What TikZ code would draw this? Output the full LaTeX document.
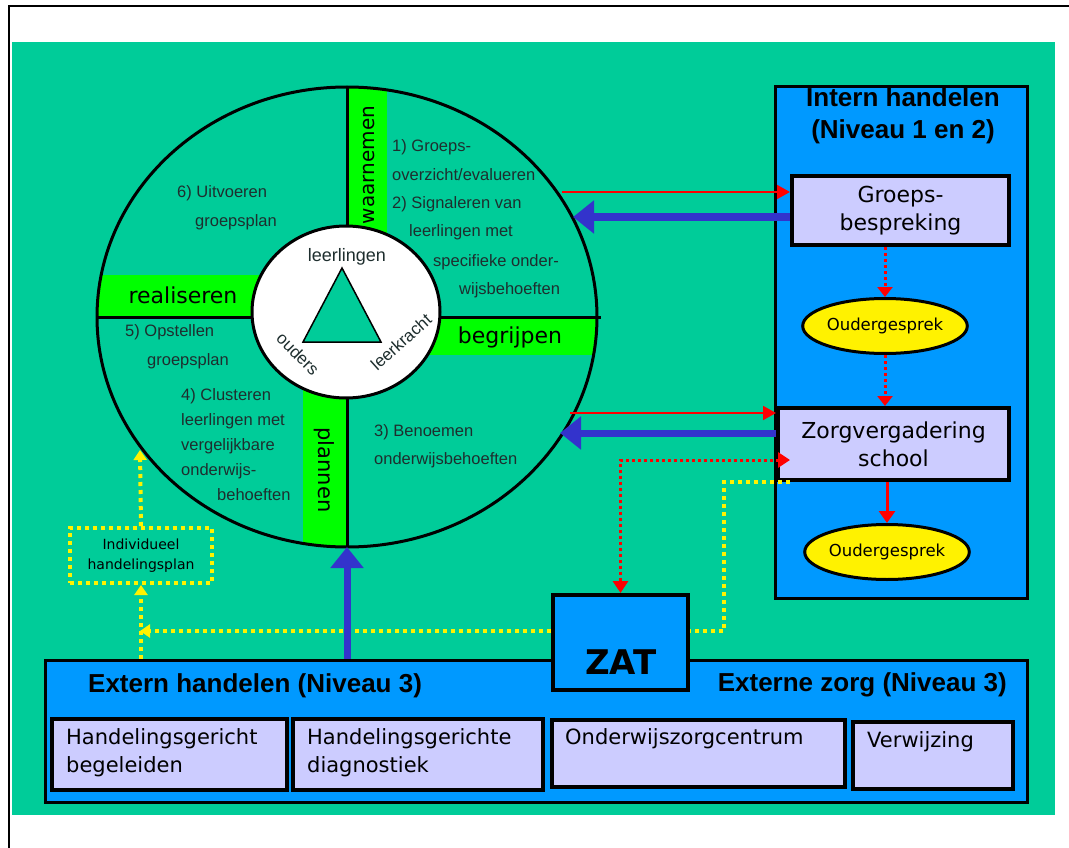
\documentclass[tikz,border=0pt]{standalone}
\usepackage{fontspec}
\setmainfont{Liberation Sans}
\newfontfamily\comic{DejaVu Sans}
\usetikzlibrary{shapes.geometric,arrows.meta}
\definecolor{bg}{HTML}{00CC99}
\definecolor{stripgreen}{HTML}{00FF00}
\definecolor{boxblue}{HTML}{0099FF}
\definecolor{lav}{HTML}{CCCCFF}
\definecolor{arrblue}{HTML}{3333CC}
\definecolor{txtgray}{HTML}{1E2E2E}
\newcommand\myfs[2]{\fontsize{#1}{#2}\selectfont}
\tikzset{
  ct/.style={anchor=west, inner sep=0pt, text=txtgray, font=\myfs{16.5}{20}},
  striptext/.style={inner sep=0pt, font=\comic\myfs{22}{26}},
  lavbox/.style={draw=black, line width=4pt, fill=lav, inner sep=0pt},
  bluebox/.style={draw=black, line width=3pt, fill=boxblue, inner sep=0pt},
  ouder/.style={ellipse, draw=black, line width=3pt, fill=yellow, minimum width=146pt, minimum height=55pt, inner sep=0pt, font=\comic\myfs{16.5}{20}},
  redarr/.style={draw=red, line width=2pt, -{Triangle[length=13pt,width=14pt]}},
  bluearr/.style={draw=arrblue, line width=7pt, -{Triangle[length=21pt,width=32pt]}},
  reddot/.style={draw=red, line width=3pt, dash pattern=on 3pt off 3pt},
  yeldot/.style={draw=yellow, line width=4pt, dash pattern=on 4pt off 4pt},
  boldhead/.style={inner sep=0pt, font=\bfseries\myfs{26}{32}},
  subtext/.style={inner sep=0pt, anchor=west, align=left, font=\comic\myfs{21}{28}},
}
\begin{document}
\begin{tikzpicture}[x=1pt,y=-1pt]
\useasboundingbox (0,0) rectangle (1069,848);
% background and frame
\fill[bg] (12,42) rectangle (1055,815);
\draw[line width=2.5pt] (9,848) -- (9,6) -- (1069,6);

% strips of the cycle
\begin{scope}
  \clip (347,317) ellipse [x radius=250, y radius=230];
  \fill[stripgreen] (347,80) rectangle (387,240);
  \fill[stripgreen] (90,275) rectangle (270,317);
  \fill[stripgreen] (420,317) rectangle (610,355);
  \fill[stripgreen] (303,380) rectangle (347,560);
\end{scope}
\draw[line width=3pt] (347,87) -- (347,547);
\draw[line width=3pt] (97,317) -- (601,317);
\draw[line width=3pt] (347,317) ellipse [x radius=250, y radius=230];
\draw[line width=3pt, fill=white] (346,312) ellipse [x radius=94, y radius=86];
\draw[line width=1.5pt, fill=bg] (342,268) -- (381,342) -- (303,342) -- cycle;

% centre labels
\node[inner sep=0pt, text=txtgray, font=\myfs{18}{20}] (lrl) at (347,257) {leerlingen};
\node[inner sep=0pt, text=txtgray, font=\myfs{17}{20}, rotate=-45] (oud) at (298,354) {ouders};
\node[inner sep=0pt, text=txtgray, font=\myfs{17}{20}, rotate=42] (lkr) at (401,342) {leerkracht};

% strip labels
\node[striptext, rotate=90, font=\comic\myfs{20}{24}] (waar) at (369,165) {waarnemen};
\node[striptext] (real) at (183,295) {realiseren};
\node[striptext] (begr) at (510,337) {begrijpen};
\node[striptext, rotate=-90, font=\comic\myfs{21}{24}] (plan) at (324,470) {plannen};

% cycle texts
\node[ct] (t1) at (392,147) {1) Groeps-};
\node[ct] (t2) at (392,175) {overzicht/evalueren};
\node[ct] (t3) at (392,204) {2) Signaleren van};
\node[ct] (t4) at (409,232) {leerlingen met};
\node[ct] (t5) at (433,262) {specifieke onder-};
\node[ct] (t6) at (459,290) {wijsbehoeften};
\node[ct] (t7) at (177,193) {6) Uitvoeren};
\node[ct] (t8) at (195,222) {groepsplan};
\node[ct] (t9) at (125,332) {5) Opstellen};
\node[ct] (t10) at (147,361) {groepsplan};
\node[ct] (t11) at (181,396) {4) Clusteren};
\node[ct] (t12) at (181,421) {leerlingen met};
\node[ct] (t13) at (181,446) {vergelijkbare};
\node[ct] (t14) at (181,471) {onderwijs-};
\node[ct] (t15) at (217,495) {behoeften};
\node[ct] (t16) at (374,432) {3) Benoemen};
\node[ct] (t17) at (374,460) {onderwijsbehoeften};

% intern handelen column
\node[bluebox, minimum width=252pt, minimum height=511pt] (intern) at (901,342.5) {};
\node[boldhead, align=center] (inttitle) at (903,116) {Intern handelen\\(Niveau 1 en 2)};
\node[lavbox, minimum width=217pt, minimum height=69pt, align=center, font=\comic\myfs{22}{28}] (grp) at (900.5,210.5) {Groeps-\\bespreking};
\node[ouder] (oud1) at (885,326) {Oudergesprek};
\node[lavbox, minimum width=231pt, minimum height=72pt, align=center, font=\comic\myfs{22}{28}] (zorg) at (893.5,444) {Zorgvergadering\\school};
\node[ouder] (oud2) at (887,552) {Oudergesprek};

% extern handelen
\node[bluebox, minimum width=982pt, minimum height=142pt] (extern) at (536,731) {};
\node[boldhead, anchor=west] (exttitle) at (88,686) {Extern handelen (Niveau 3)};
\node[boldhead, anchor=east] (ezorg) at (1007,685) {Externe zorg (Niveau 3)};
\node[lavbox, minimum width=235pt, minimum height=71pt] (hb) at (169.5,754.5) {};
\node[lavbox, minimum width=250pt, minimum height=71pt] (hd) at (418,754.5) {};
\node[lavbox, minimum width=293pt, minimum height=67pt] (ozc) at (698.5,753.5) {};
\node[lavbox, minimum width=160pt, minimum height=67pt] (vw) at (933,755.5) {};
\node[subtext] (hbt) at (66,753) {Handelingsgericht\\begeleiden};
\node[subtext] (hdt) at (307,753) {Handelingsgerichte\\diagnostiek};
\node[subtext] (ozct) at (565,739) {Onderwijszorgcentrum};
\node[subtext] (vwt) at (867,742) {Verwijzing};

% ZAT
\node[draw=black, line width=4pt, fill=boxblue, minimum width=135pt, minimum height=95pt, inner sep=0pt] (zat) at (620.5,642.5) {};
\node[inner sep=0pt, font=\comic\bfseries\myfs{34}{40}] (zatl) at (621,662) {ZAT};

% individueel handelingsplan
\node[yeldot, minimum width=142pt, minimum height=55pt, inner sep=0pt, align=center, font=\comic\myfs{14}{20}] (ihp) at (141,555.5) {Individueel\\handelingsplan};

% connector end points on the cycle
\coordinate (cA) at (562,192);
\coordinate (cB) at (573,217);
\coordinate (cC) at (570,413);
\coordinate (cD) at (560,433);
\coordinate (cE) at (790,460);
\coordinate (cF) at (140,450);
\coordinate (cG) at (347,547);
\coordinate (y0) at (790,482);
\coordinate (y1) at (724,482);
\coordinate (y2) at (724,631);
\coordinate (y3) at (140,631);

% connectors
\draw[redarr] (cA) -- (grp.west |- cA);
\draw[bluearr] (grp.west |- cB) -- (cB);
\draw[redarr] (cC) -- (zorg.west |- cC);
\draw[bluearr] (zorg.west |- cD) -- (cD);
\draw[reddot, -{Triangle[length=10pt,width=15pt]}] (grp.south -| oud1) -- (oud1.north);
\draw[reddot, -{Triangle[length=10pt,width=15pt]}] (oud1.south) -- (zorg.north -| oud1);
\draw[draw=red, line width=3pt, -{Triangle[length=12pt,width=16pt]}] (zorg.south -| oud2) -- (oud2.north);
\draw[reddot, {Triangle[length=12pt,width=15pt]}-{Triangle[length=12pt,width=15pt]}] (cE) -| (zat.north);
\draw[yeldot] (y0) -- (y1) -- (y2) -- (zat.east |- y2);
\draw[yeldot, -{Triangle[length=10pt,width=13pt]}] (zat.west |- y2) -- (y3);
\draw[yeldot, -{Triangle[length=10pt,width=13pt]}] (extern.north -| ihp) -- (ihp.south);
\draw[yeldot, -{Triangle[length=10pt,width=13pt]}] (ihp.north) -- (cF);
\draw[bluearr] (extern.north -| cG) -- (cG);
\end{tikzpicture}
\end{document}
